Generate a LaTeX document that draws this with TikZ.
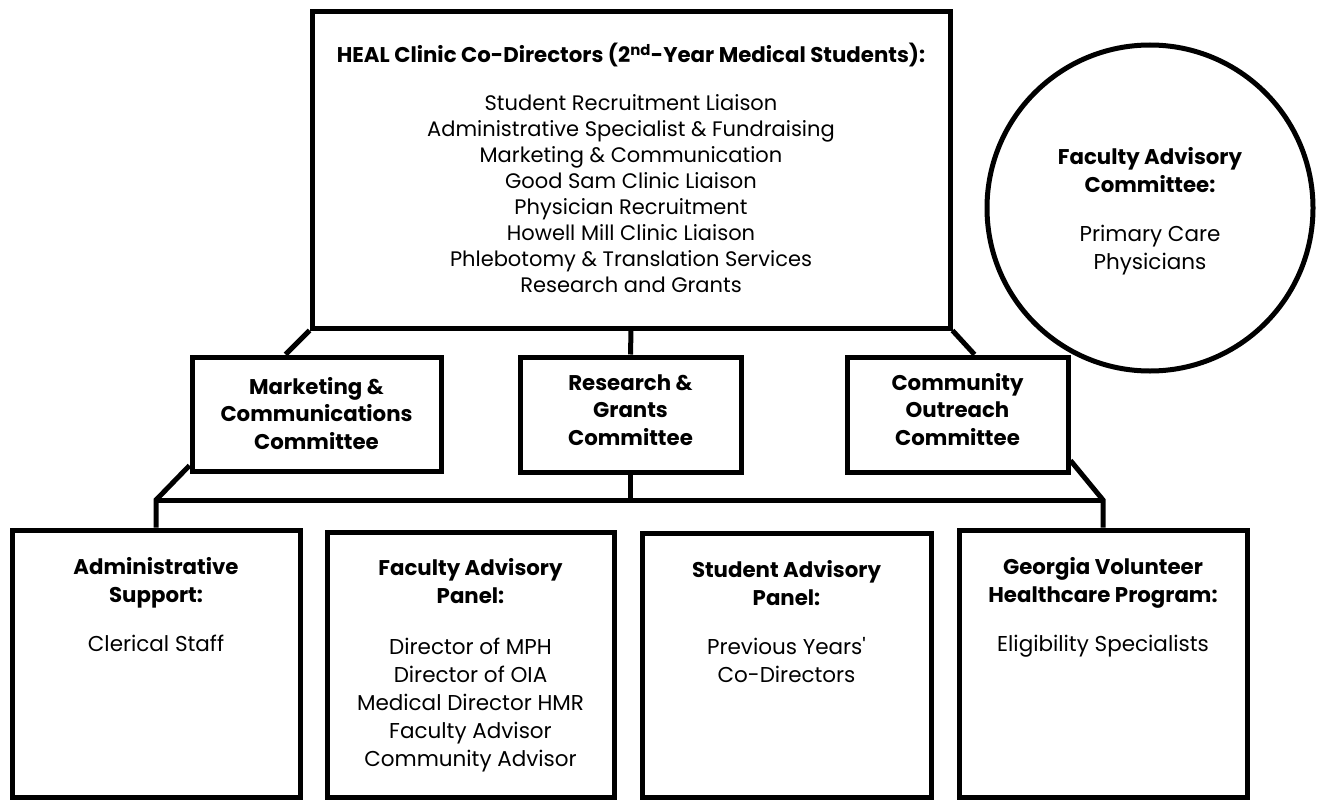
\documentclass[tikz,border=0pt]{standalone}
\usepackage{fontspec}
\setmainfont{Poppins}
\usetikzlibrary{fit}
\begin{document}
\begin{tikzpicture}[x=1pt,y=-1pt,
  box/.style={draw, line width=5pt, inner sep=0pt},
  % multi-line nodes sit on the baseline of their last line
  ttl/.style={font=\fontsize{21.3}{28}\selectfont\bfseries, align=center, anchor=base, inner sep=0pt},
  cttl/.style={font=\fontsize{21.3}{27.5}\selectfont\bfseries, align=center, anchor=base, inner sep=0pt},
  toptxt/.style={font=\fontsize{21}{26}\selectfont, align=center, anchor=base, inner sep=0pt},
  body/.style={font=\fontsize{21.5}{28}\selectfont, align=center, anchor=base, inner sep=0pt},
  link/.style={line width=5pt}]
\useasboundingbox[fill=white] (0,0) rectangle (1317,800);

% leadership box
\node[box, fit={(312,12) (950,328)}] (top) {};
\node[ttl] (topT) at (631,63) {HEAL Clinic Co-Directors (2\textsuperscript{nd}-Year Medical Students):};
\node[toptxt] (topB) at (631,292) {Student Recruitment Liaison\\Administrative Specialist \& Fundraising\\Marketing \& Communication\\Good Sam Clinic Liaison\\Physician Recruitment\\Howell Mill Clinic Liaison\\Phlebotomy \& Translation Services\\Research and Grants};

% advisory committee
\node[box, circle, minimum size=326pt] (fac) at (1150,208) {};
\node[ttl] (facT) at (1150,192) {Faculty Advisory\\Committee:};
\node[body] (facB) at (1150,269) {Primary Care\\Physicians};

% committees
\node[box, fit={(192,357) (441,471)}] (mc) {};
\node[box, fit={(520,357) (741,472)}] (rg) {};
\node[box, fit={(847,357) (1068,472)}] (co) {};
\node[cttl] (mcT) at (316.5,449) {Marketing \&\\Communications\\Committee};
\node[cttl] (rgT) at (630.5,445) {Research \&\\Grants\\Committee};
\node[cttl] (coT) at (957.5,445) {Community\\Outreach\\Committee};

% support groups
\node[box, fit={(12,530) (300,797)}] (admin) {};
\node[box, fit={(327,532) (614,797)}] (fap) {};
\node[box, fit={(642,533) (931,797)}] (sap) {};
\node[box, fit={(959,530) (1247,797)}] (gv) {};
\node[ttl] (adminT) at (156,602) {Administrative\\Support:};
\node[body] (adminB) at (156,651) {Clerical Staff};
\node[ttl] (fapT) at (470.5,603) {Faculty Advisory\\Panel:};
\node[body] (fapB) at (470.5,766) {Director of MPH\\Director of OIA\\Medical Director HMR\\Faculty Advisor\\Community Advisor};
\node[ttl] (sapT) at (786.5,605) {Student Advisory\\Panel:};
\node[body] (sapB) at (786.5,682) {Previous Years\textquotesingle\\Co-Directors};
\node[ttl] (gvT) at (1103,602) {Georgia Volunteer\\Healthcare Program:};
\node[body] (gvB) at (1103,651) {Eligibility Specialists};

% connectors
\coordinate (jl) at (156,500);
\coordinate (jr) at (1103,500);
\draw[link] (top.south west) -- ([xshift=96pt]mc.north west);
\draw[link] (top.south) -- (rg.north);
\draw[link] (top.south east) -- ([xshift=130pt]co.north west);
\draw[link] ([yshift=8pt]mc.south west) -- (jl) -- (admin.north);
\draw[link] (jl) -- (jr);
\draw[link] ([yshift=14pt]co.south east) -- (jr) -- (gv.north);
\draw[link] (rg.south) -- (rg.south |- jl);
\end{tikzpicture}
\end{document}
